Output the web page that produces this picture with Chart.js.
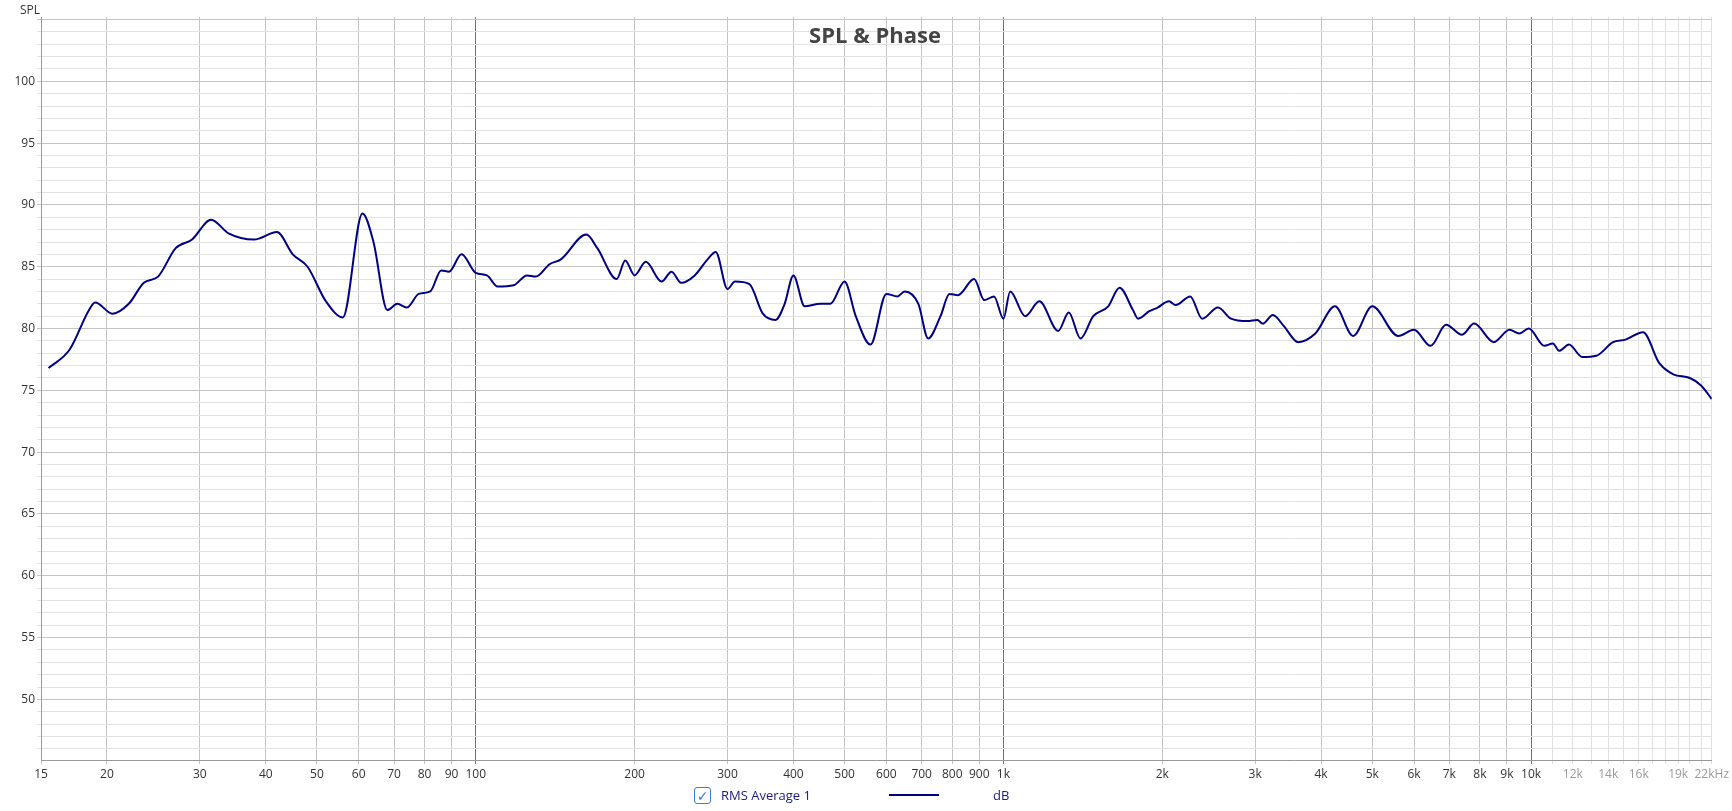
<!DOCTYPE html>
<html>
<head>
<meta charset="utf-8">
<script src="https://cdn.jsdelivr.net/npm/chart.js@4"></script>
<style>
  body { margin: 0; background: #fff; font-family: "Segoe UI", "Open Sans", "DejaVu Sans", sans-serif; }
  #wrap { position: relative; width: 1732px; height: 811px; }
  #title { position: absolute; left: 0; width: 1750px; top: 19px; text-align: center; font-size: 22px; font-weight: bold; color: #444; }
  #ylab { position: absolute; left: 20px; top: 1px; font-size: 12px; color: #333; }
  #legend { position: absolute; top: 786px; left: 694px; font-size: 13px; color: #1a1a80; display: flex; align-items: center; }
  .box { width: 15px; height: 15px; border: 1px solid #3b7dd8; border-radius: 3px; color: #3b7dd8; font-size: 14px; line-height: 15px; text-align: center; margin-right: 10px; }
  .swatch { width: 50px; height: 2px; background: #000080; margin: 0 54px 0 78px; }
</style>
</head>
<body>
<div id="wrap">
  <canvas id="c" width="1732" height="811"></canvas>
  <div id="ylab">SPL</div>
  <div id="title">SPL &amp; Phase</div>
  <div id="legend"><div class="box">&#10003;</div><span>RMS Average 1</span><div class="swatch"></div><span>dB</span></div>
</div>
<script>
// Frequências (Hz) e nível (dB)
const freqs = [15.5, 17, 18.5, 19, 20.5, 22, 23.5, 25, 27, 29, 31.5, 34, 38, 42, 45, 48, 52, 56, 61, 64, 68, 71, 74, 78, 82, 86, 89, 94, 100,
  105, 110, 118, 125, 130, 138, 145, 162, 170, 185, 192, 200, 210, 225, 235, 245, 260, 275, 285, 300, 310, 330, 350, 370, 385, 400,
  420, 450, 470, 500, 525, 560, 600, 630, 650, 690, 720, 760, 790, 820, 880, 920, 960, 1000, 1030, 1100, 1170, 1270, 1330, 1400,
  1480, 1580, 1660, 1760, 1800, 1890, 1960, 2060, 2120, 2260, 2380, 2550, 2700, 2900, 3030, 3100, 3240, 3400, 3620, 3900, 4250,
  4600, 5000, 5600, 6000, 6450, 6900, 7400, 7800, 8500, 9100, 9500, 9900, 10600, 11000, 11300, 11800, 12500, 13300, 14300, 15100,
  16300, 17500, 18600, 20000, 21000, 22000];
const spl = [76.8, 78.3, 81.5, 82.1, 81.2, 82, 83.7, 84.2, 86.5, 87.2, 88.8, 87.7, 87.2, 87.8, 86, 85, 82.2, 80.9, 89.3, 87, 81.5, 82, 81.7, 82.8, 83, 84.7, 84.6, 86, 84.5,
  84.3, 83.4, 83.5, 84.3, 84.2, 85.2, 85.6, 87.6, 86.5, 84, 85.5, 84.3, 85.4, 83.8, 84.6, 83.7, 84.3, 85.6, 86.2, 83.2, 83.8, 83.6, 81.2, 80.7, 82, 84.3,
  81.8, 82, 82, 83.8, 81, 78.7, 82.8, 82.6, 83, 82, 79.2, 81, 82.8, 82.7, 84, 82.3, 82.6, 80.8, 83, 81, 82.2, 79.8, 81.3, 79.2,
  81, 81.8, 83.3, 81.5, 80.8, 81.4, 81.7, 82.2, 81.9, 82.6, 80.8, 81.7, 80.8, 80.6, 80.7, 80.4, 81.1, 80.2, 78.9, 79.6, 81.8,
  79.4, 81.8, 79.4, 79.9, 78.6, 80.3, 79.5, 80.4, 78.9, 79.9, 79.6, 80.0, 78.6, 78.8, 78.2, 78.7, 77.7, 77.8, 78.9, 79.1,
  79.7, 77.2, 76.3, 76.0, 75.4, 74.3];
// Linhas de grade e rótulos do eixo X
const xGrid = [15, 20, 30, 40, 50, 60, 70, 80, 90, 100, 200, 300, 400, 500, 600, 700, 800, 900, 1000, 2000, 3000, 4000, 5000,
  6000, 7000, 8000, 9000, 10000, 11000, 12000, 13000, 14000, 15000, 16000, 17000, 18000, 19000, 20000, 21000, 22000];
const xLabels = {15: '15', 20: '20', 30: '30', 40: '40', 50: '50', 60: '60', 70: '70', 80: '80', 90: '90', 100: '100',
  200: '200', 300: '300', 400: '400', 500: '500', 600: '600', 700: '700', 800: '800', 900: '900', 1000: '1k',
  2000: '2k', 3000: '3k', 4000: '4k', 5000: '5k', 6000: '6k', 7000: '7k', 8000: '8k', 9000: '9k', 10000: '10k',
  12000: '12k', 14000: '14k', 16000: '16k', 19000: '19k', 22000: '22kHz'};

const ctx = document.getElementById('c').getContext('2d');
new Chart(ctx, {
  type: 'line',
  data: {
    datasets: [{
      data: freqs.map((f, i) => ({ x: f, y: spl[i] })),
      borderColor: '#000080',
      borderWidth: 2,
      pointRadius: 0,
      cubicInterpolationMode: 'monotone',
      fill: false
    }]
  },
  options: {
    responsive: false,
    animation: false,
    layout: { padding: { top: 17, right: 20, left: 0, bottom: 0 } },
    plugins: { legend: { display: false }, tooltip: { enabled: false } },
    scales: {
      x: {
        type: 'logarithmic', min: 15, max: 22000,
        afterBuildTicks: axis => { axis.ticks = xGrid.map(v => ({ value: v })); },
        afterFit: axis => { axis.height = 51; },
        border: { color: '#999' },
        grid: {
          color: c => {
            const v = c.tick && c.tick.value;
            if (v === 100 || v === 1000 || v === 10000) return '#707070';
            if (v > 10000) return '#e0e0e0';
            return '#c4c4c4';
          },
          drawTicks: true, tickLength: 4
        },
        ticks: {
          autoSkip: false, maxRotation: 0, padding: 3,
          font: { size: 12, family: 'Open Sans' },
          color: c => (c.tick.value > 10000 ? '#999' : '#333'),
          callback: v => xLabels[v] || ''
        }
      },
      y: {
        min: 45.1, max: 105.2,
        afterBuildTicks: axis => {
          const t = [];
          for (let v = 46; v <= 105; v++) t.push({ value: v });
          axis.ticks = t;
        },
        afterFit: axis => { axis.width = 41; },
        border: { color: '#999' },
        grid: {
          color: c => (c.tick && c.tick.value % 5 === 0 ? '#c4c4c4' : '#e2e2e2'),
          tickLength: 4
        },
        ticks: {
          autoSkip: false, padding: 2,
          font: { size: 12, family: 'Open Sans' }, color: '#333',
          callback: v => (v % 5 === 0 && v >= 50 && v <= 100 ? v : '')
        }
      }
    }
  }
});
</script>
</body>
</html>
